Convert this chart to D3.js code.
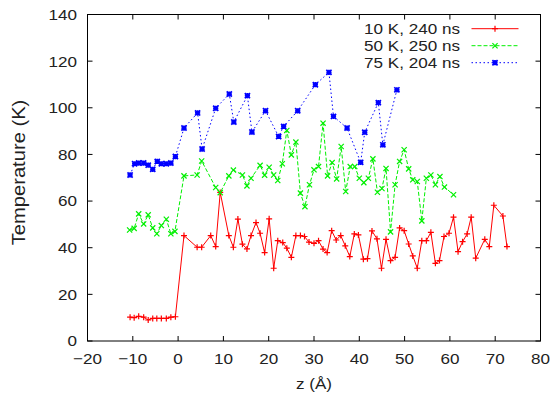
<!DOCTYPE html>
<html>
<head>
<meta charset="utf-8">
<script src="https://cdn.jsdelivr.net/npm/d3@7"></script>
<style>
  body { margin: 0; background: #fff; }
  text { font-family: "Liberation Sans", Arial, Helvetica, sans-serif; fill: #222; }
</style>
</head>
<body>
<script>
// series data
var seriesNames = ["10 K, 240 ns", "50 K, 250 ns", "75 K, 204 ns"];

var z10 = [-10.6,-9.7,-8.7,-7.6,-6.6,-5.6,-4.7,-3.7,-2.6,-1.6,-0.6,1.3,4.2,5.2,7.2,8.3,9.3,11.2,12.2,13.2,
  14.2,15.2,16.1,17.2,18.1,19.1,20.1,21.1,22.0,23.1,24.0,25.0,26.0,27.0,27.9,28.9,30.0,31.0,32.0,32.9,
  33.9,34.9,35.9,36.9,37.9,38.9,39.8,40.9,41.8,42.8,43.9,44.9,45.9,46.9,47.9,
  48.9,49.9,50.9,51.8,52.8,53.8,54.8,55.8,56.8,57.7,58.7,59.8,60.8,61.8,62.8,63.8,64.7,65.7,
  67.7,68.7,69.7,71.7,72.6];
var t10 = [10.2,10.0,10.6,10.2,9.0,9.7,9.7,9.7,9.7,10.2,10.4,45.2,40.2,40.2,45.2,40.5,63.7,45.2,40.2,52.3,
  41.5,39.5,45.2,50.8,46.2,37.9,52.4,31.2,43.0,42.2,39.8,35.9,45.2,45.2,44.8,42.4,41.9,43.0,39.4,37.9,
  47.3,43.3,45.2,40.8,36.2,45.9,45.5,35.1,35.3,47.2,43.8,31.2,43.6,34.5,35.9,
  48.5,47.3,41.6,36.5,31.2,43.0,43.0,46.6,33.3,34.5,44.8,46.2,53.1,38.3,42.6,45.9,53.1,35.5,
  43.6,40.5,58.2,53.6,40.5];

var z50 = [-10.7,-9.7,-8.7,-7.6,-6.6,-5.6,-4.7,-3.7,-2.6,-1.6,-0.7,1.3,4.2,5.2,8.3,9.3,11.2,12.2,
  14.2,15.2,16.1,18.1,19.1,20.1,21.1,22.0,23.0,24.0,25.0,26.0,27.0,28.0,29.0,30.0,31.0,32.0,33.0,34.0,
  35.0,36.0,37.0,38.0,39.0,40.0,41.0,42.0,43.0,44.0,45.0,45.9,46.9,47.9,48.9,49.9,50.9,51.8,52.8,53.8,
  54.8,55.8,56.8,57.8,58.8,60.8];
var t50 = [47.6,48.3,54.5,50.2,54.1,48.5,46.0,49.5,52.2,46.0,47.0,70.8,71.2,77.2,65.8,63.6,70.8,73.3,
  71.2,66.5,69.8,75.3,71.1,74.5,71.2,68.8,76.0,90.3,79.8,85.3,63.4,57.6,67.0,73.4,74.8,93.4,70.8,76.5,
  69.5,83.4,64.1,74.8,74.8,69.8,67.9,69.8,78.1,63.8,65.4,74.0,46.8,67.0,77.0,82.0,73.8,69.1,68.4,51.5,
  69.8,71.2,67.0,70.5,66.0,62.7];

var z75 = [-10.6,-9.6,-8.7,-7.6,-6.6,-5.6,-4.6,-3.7,-2.6,-1.6,-0.6,1.3,4.3,5.3,8.3,11.3,12.3,15.3,16.3,
  19.3,22.2,23.3,26.4,30.3,33.3,34.3,37.3,40.3,41.2,44.2,45.2,48.3];
var t75 = [71.2,76.0,76.3,76.3,75.4,73.6,77.0,76.0,76.0,76.3,79.1,91.3,97.8,82.3,99.8,105.9,93.9,105.2,89.6,
  98.7,87.7,92.0,98.7,109.9,115.2,96.3,91.3,76.6,89.5,102.2,84.1,107.7];

var xTicks = [-20, -10, 0, 10, 20, 30, 40, 50, 60, 70, 80];
var yTicks = [0, 20, 40, 60, 80, 100, 120, 140];

var width = 552, height = 396;
var margin = {left: 87.5, right: 11.5, top: 14.5, bottom: 55};
var fs = 15.4, stretch = 1.11; //glyphs in the picture are a bit wide

var svg = d3.select("body").append("svg")
  .attr("width", width)
  .attr("height", height);

var x = d3.scaleLinear().domain([-20, 80]).range([margin.left, width - margin.right]);
var y = d3.scaleLinear().domain([0, 140]).range([height - margin.bottom, margin.top]);

//zip z and T together
function zip(zs, ts){
  return zs.map(function(d, i){ return [d, ts[i]]; });
}

var styles = [
  {color: "#ff0000", dash: null, marker: "plus", data: zip(z10, t10)},
  {color: "#00f000", dash: "4,2", marker: "cross", data: zip(z50, t50)},
  {color: "#0000ff", dash: "1.5,2.5", marker: "star", data: zip(z75, t75)}
];

function markerPath(type, s){
  var p = "M" + (-s) + ",0H" + s + "M0," + (-s) + "V" + s;
  var c = "M" + (-s) + "," + (-s) + "L" + s + "," + s + "M" + (-s) + "," + s + "L" + s + "," + (-s);
  if (type === "plus") return p;
  if (type === "cross") return c;
  return p + c;
}

//stretched text helper
function label(g, tx, ty, anchor, str){
  return g.append("text")
    .attr("transform", "translate(" + tx + "," + ty + ") scale(" + stretch + ",1)")
    .attr("text-anchor", anchor)
    .style("font-size", fs + "px")
    .text(str);
}

var line = d3.line()
  .x(function(d){ return x(d[0]); })
  .y(function(d){ return y(d[1]); });

//series lines + points
styles.forEach(function(s){
  svg.append("path")
    .datum(s.data)
    .attr("d", line)
    .attr("fill", "none")
    .attr("stroke", s.color)
    .attr("stroke-width", 1)
    .attr("stroke-dasharray", s.dash);

  svg.append("g").selectAll("path")
    .data(s.data)
    .enter()
    .append("path")
    .attr("transform", function(d){ return "translate(" + x(d[0]) + "," + y(d[1]) + ")"; })
    .attr("d", markerPath(s.marker, s.marker === "plus" ? 3 : 2.6))
    .attr("fill", "none")
    .attr("stroke", s.color)
    .attr("stroke-width", s.marker === "star" ? 1.7 : 1.2);
});

//frame and ticks (gnuplot style: inward, mirrored)
var x0 = x.range()[0], x1 = x.range()[1], y0 = y.range()[0], y1 = y.range()[1];
var tl = 5;
var axes = svg.append("g").attr("stroke", "#000").attr("stroke-width", 1).attr("fill", "none");
axes.append("rect").attr("x", x0).attr("y", y1).attr("width", x1 - x0).attr("height", y0 - y1);
xTicks.forEach(function(t){
  axes.append("path").attr("d", "M" + x(t) + "," + y0 + "v" + (-tl) + "M" + x(t) + "," + y1 + "v" + tl);
});
yTicks.forEach(function(t){
  axes.append("path").attr("d", "M" + x0 + "," + y(t) + "h" + tl + "M" + x1 + "," + y(t) + "h" + (-tl));
});

var tickG = svg.append("g");
xTicks.forEach(function(t){
  label(tickG, x(t), 363.5, "middle", t < 0 ? "\u2212" + (-t) : String(t));
});
yTicks.forEach(function(t){
  label(tickG, 77, y(t) + 5.4, "end", String(t));
});

//axis titles
svg.append("text")
  .attr("transform", "translate(25," + 172.5 + ") rotate(-90) scale(1.09,1)")
  .attr("text-anchor", "middle")
  .style("font-size", "18.5px")
  .text("Temperature (K)");

label(svg, (x0 + x1) / 2, 389, "middle", "z (\u00c5)");

//legend
var legend = svg.append("g");
styles.forEach(function(s, i){
  var ly = 28.7 + i * 17;
  label(legend, 460, ly + 5.6, "end", seriesNames[i]);
  legend.append("path")
    .attr("d", "M471.5," + ly + "H518.5")
    .attr("stroke", s.color)
    .attr("stroke-width", 1)
    .attr("stroke-dasharray", s.dash);
  legend.append("path")
    .attr("transform", "translate(495," + ly + ")")
    .attr("d", markerPath(s.marker, s.marker === "plus" ? 3 : 2.6))
    .attr("fill", "none")
    .attr("stroke", s.color)
    .attr("stroke-width", s.marker === "star" ? 1.7 : 1.2);
});
</script>
</body>
</html>
